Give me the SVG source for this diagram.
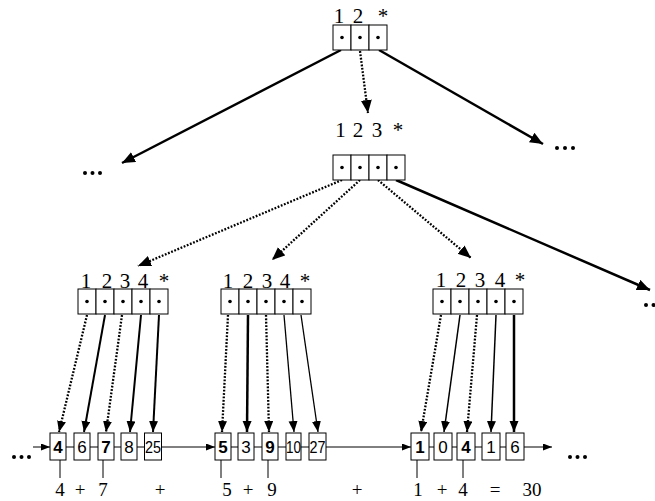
<svg xmlns="http://www.w3.org/2000/svg" width="655" height="501" viewBox="0 0 655 501">
<defs>
<style>
.cell{fill:#fff;stroke:#000;stroke-width:1}
.dot{fill:#000}
.lbl{font-family:"Liberation Serif",serif;font-size:21px;text-anchor:middle;fill:#000}
.box{fill:#fff;stroke:#000;stroke-width:1}
.bt{font-family:"Liberation Sans",sans-serif;font-size:17px;text-anchor:middle;fill:#000}
.bb{font-weight:bold}
.sum{font-family:"Liberation Serif",serif;font-size:19px;text-anchor:middle;fill:#000}
.big{stroke:#000;stroke-width:2.5;fill:none;marker-end:url(#ahL)}
.dotted{stroke:#000;stroke-width:2.3;stroke-dasharray:1.8 1.6;fill:none}
.dl{marker-end:url(#ahL)}
.ds{marker-end:url(#ahS)}
.sol{stroke:#000;fill:none;marker-end:url(#ahS)}
.hl{stroke:#000;stroke-width:1;fill:none}
.ha{marker-end:url(#ahH)}
</style>
<marker id="ahL" markerUnits="userSpaceOnUse" markerWidth="14" markerHeight="12" refX="13" refY="5.5" orient="auto"><path d="M0,0 L13,5.5 L0,11 z" fill="#000"/></marker>
<marker id="ahS" markerUnits="userSpaceOnUse" markerWidth="12" markerHeight="10" refX="11" refY="4.5" orient="auto"><path d="M0,0 L11,4.5 L0,9 z" fill="#000"/></marker>
<marker id="ahH" markerUnits="userSpaceOnUse" markerWidth="10" markerHeight="8" refX="9" refY="3.5" orient="auto"><path d="M0,0 L9,3.5 L0,7 z" fill="#000"/></marker>
</defs>
<rect width="655" height="501" fill="#fff"/>

<g id="connectors">
<line class="big" x1="341" y1="50" x2="122" y2="163"/>
<line class="big" x1="379" y1="50" x2="543" y2="144"/>
<line class="dotted dl" x1="360" y1="51" x2="368" y2="113"/>
<line class="dotted dl" x1="342" y1="180" x2="138" y2="266"/>
<line class="dotted dl" x1="360" y1="180" x2="272" y2="260"/>
<line class="dotted dl" x1="378" y1="180" x2="471" y2="258"/>
<line class="big" x1="396" y1="180" x2="650" y2="290"/>

<line class="dotted ds" x1="87" y1="315" x2="59" y2="432"/>
<line class="sol" stroke-width="2" x1="105" y1="315" x2="84" y2="432"/>
<line class="dotted ds" x1="122" y1="315" x2="106" y2="432"/>
<line class="sol" stroke-width="2" x1="141" y1="315" x2="130" y2="432"/>
<line class="sol" stroke-width="2" x1="159" y1="315" x2="153" y2="432"/>

<line class="dotted ds" x1="228" y1="315" x2="222" y2="432"/>
<line class="sol" stroke-width="2.5" x1="248" y1="315" x2="247" y2="432"/>
<line class="dotted ds" x1="266" y1="315" x2="269" y2="432"/>
<line class="sol" stroke-width="1.3" x1="284" y1="315" x2="294" y2="432"/>
<line class="sol" stroke-width="1.3" x1="301" y1="315" x2="318" y2="432"/>

<line class="dotted ds" x1="441" y1="315" x2="421" y2="432"/>
<line class="sol" stroke-width="1.5" x1="460" y1="315" x2="444" y2="432"/>
<line class="dotted ds" x1="477" y1="315" x2="467" y2="432"/>
<line class="sol" stroke-width="1.5" x1="496" y1="315" x2="491" y2="432"/>
<line class="sol" stroke-width="2.5" x1="514" y1="315" x2="514" y2="432"/>

<line class="hl ha" x1="33" y1="447" x2="50" y2="447"/>
<line class="hl" x1="66" y1="447" x2="74" y2="447"/>
<line class="hl" x1="90" y1="447" x2="98" y2="447"/>
<line class="hl" x1="114" y1="447" x2="121" y2="447"/>
<line class="hl" x1="137" y1="447" x2="144.5" y2="447"/>
<line class="hl ha" x1="161.5" y1="447" x2="215" y2="447"/>
<line class="hl" x1="231" y1="447" x2="238" y2="447"/>
<line class="hl" x1="254" y1="447" x2="262" y2="447"/>
<line class="hl" x1="278" y1="447" x2="286" y2="447"/>
<line class="hl" x1="301" y1="447" x2="309" y2="447"/>
<line class="hl ha" x1="326" y1="447" x2="411" y2="447"/>
<line class="hl" x1="429" y1="447" x2="434" y2="447"/>
<line class="hl" x1="452" y1="447" x2="457" y2="447"/>
<line class="hl" x1="475" y1="447" x2="482" y2="447"/>
<line class="hl" x1="500" y1="447" x2="506" y2="447"/>
<line class="hl ha" x1="524" y1="447" x2="552" y2="447"/>

<line class="hl" x1="60" y1="460" x2="60" y2="478"/>
<line class="hl" x1="103" y1="460" x2="103" y2="478"/>
<line class="hl" x1="221" y1="460" x2="221" y2="478"/>
<line class="hl" x1="268" y1="460" x2="268" y2="478"/>
<line class="hl" x1="417" y1="460" x2="417" y2="478"/>
<line class="hl" x1="463" y1="460" x2="463" y2="478"/>
</g>

<g id="ellipses">
<circle class="dot" cx="85" cy="173" r="2"/><circle class="dot" cx="92.5" cy="173" r="2"/><circle class="dot" cx="100" cy="173" r="2"/>
<circle class="dot" cx="557" cy="148" r="2"/><circle class="dot" cx="565" cy="148" r="2"/><circle class="dot" cx="573" cy="148" r="2"/>
<circle class="dot" cx="646" cy="305" r="2"/><circle class="dot" cx="653.5" cy="305" r="2"/><circle class="dot" cx="661" cy="305" r="2"/>
<circle class="dot" cx="14" cy="457" r="2"/><circle class="dot" cx="21.5" cy="457" r="2"/><circle class="dot" cx="29" cy="457" r="2"/>
<circle class="dot" cx="570" cy="457" r="2"/><circle class="dot" cx="577.5" cy="457" r="2"/><circle class="dot" cx="585" cy="457" r="2"/>
</g>

<g id="node-top">
<rect class="cell" x="333" y="25" width="18" height="25"/><rect class="cell" x="351" y="25" width="18" height="25"/><rect class="cell" x="369" y="25" width="18" height="25"/>
<circle class="dot" cx="342" cy="37.5" r="1.8"/><circle class="dot" cx="360" cy="37.5" r="1.8"/><circle class="dot" cx="378" cy="37.5" r="1.8"/>
<text class="lbl" x="339" y="23">1</text><text class="lbl" x="358" y="23">2</text><text class="lbl" x="383" y="23">*</text>
</g>

<g id="node-mid">
<rect class="cell" x="333" y="155" width="18" height="25"/><rect class="cell" x="351" y="155" width="18" height="25"/><rect class="cell" x="369" y="155" width="18" height="25"/><rect class="cell" x="387" y="155" width="18" height="25"/>
<circle class="dot" cx="342" cy="167.5" r="1.8"/><circle class="dot" cx="360" cy="167.5" r="1.8"/><circle class="dot" cx="378" cy="167.5" r="1.8"/><circle class="dot" cx="396" cy="167.5" r="1.8"/>
<text class="lbl" x="340.5" y="137">1</text><text class="lbl" x="358" y="137">2</text><text class="lbl" x="377" y="137">3</text><text class="lbl" x="398" y="137">*</text>
</g>

<g id="node-a">
<rect class="cell" x="78" y="289" width="18" height="25"/><rect class="cell" x="96" y="289" width="18" height="25"/><rect class="cell" x="114" y="289" width="18" height="25"/><rect class="cell" x="132" y="289" width="18" height="25"/><rect class="cell" x="150" y="289" width="18" height="25"/>
<circle class="dot" cx="87" cy="301.5" r="1.8"/><circle class="dot" cx="105" cy="301.5" r="1.8"/><circle class="dot" cx="123" cy="301.5" r="1.8"/><circle class="dot" cx="141" cy="301.5" r="1.8"/><circle class="dot" cx="159" cy="301.5" r="1.8"/>
<text class="lbl" x="86" y="288">1</text><text class="lbl" x="107" y="288">2</text><text class="lbl" x="125" y="288">3</text><text class="lbl" x="143" y="288">4</text><text class="lbl" x="164" y="288">*</text>
</g>

<g id="node-b">
<rect class="cell" x="221" y="289" width="18" height="25"/><rect class="cell" x="239" y="289" width="18" height="25"/><rect class="cell" x="257" y="289" width="18" height="25"/><rect class="cell" x="275" y="289" width="18" height="25"/><rect class="cell" x="293" y="289" width="18" height="25"/>
<circle class="dot" cx="230" cy="301.5" r="1.8"/><circle class="dot" cx="248" cy="301.5" r="1.8"/><circle class="dot" cx="266" cy="301.5" r="1.8"/><circle class="dot" cx="284" cy="301.5" r="1.8"/><circle class="dot" cx="302" cy="301.5" r="1.8"/>
<text class="lbl" x="228" y="288">1</text><text class="lbl" x="248" y="288">2</text><text class="lbl" x="267" y="288">3</text><text class="lbl" x="285" y="288">4</text><text class="lbl" x="305" y="288">*</text>
</g>

<g id="node-c">
<rect class="cell" x="433" y="289" width="18" height="25"/><rect class="cell" x="451" y="289" width="18" height="25"/><rect class="cell" x="469" y="289" width="18" height="25"/><rect class="cell" x="487" y="289" width="18" height="25"/><rect class="cell" x="505" y="289" width="18" height="25"/>
<circle class="dot" cx="442" cy="301.5" r="1.8"/><circle class="dot" cx="460" cy="301.5" r="1.8"/><circle class="dot" cx="478" cy="301.5" r="1.8"/><circle class="dot" cx="496" cy="301.5" r="1.8"/><circle class="dot" cx="514" cy="301.5" r="1.8"/>
<text class="lbl" x="441" y="287">1</text><text class="lbl" x="461" y="287">2</text><text class="lbl" x="480" y="287">3</text><text class="lbl" x="500" y="287">4</text><text class="lbl" x="520" y="287">*</text>
</g>

<g id="list-1">
<rect class="box" x="50" y="433" width="16" height="27"/><text class="bt bb" x="58" y="453">4</text>
<rect class="box" x="74" y="433" width="16" height="27"/><text class="bt" x="82" y="453">6</text>
<rect class="box" x="98" y="433" width="16" height="27"/><text class="bt bb" x="106" y="453">7</text>
<rect class="box" x="121" y="433" width="16" height="27"/><text class="bt" x="129" y="453">8</text>
<rect class="box" x="144.5" y="433" width="17" height="27"/><text class="bt" x="153" y="453" textLength="16" lengthAdjust="spacingAndGlyphs">25</text>
</g>

<g id="list-2">
<rect class="box" x="215" y="433" width="16" height="27"/><text class="bt bb" x="223" y="453">5</text>
<rect class="box" x="238" y="433" width="16" height="27"/><text class="bt" x="246" y="453">3</text>
<rect class="box" x="262" y="433" width="16" height="27"/><text class="bt bb" x="270" y="453">9</text>
<rect class="box" x="286" y="433" width="15" height="27"/><text class="bt" x="293.5" y="453" textLength="15" lengthAdjust="spacingAndGlyphs">10</text>
<rect class="box" x="309" y="433" width="17" height="27"/><text class="bt" x="317.5" y="453" textLength="16" lengthAdjust="spacingAndGlyphs">27</text>
</g>

<g id="list-3">
<rect class="box" x="411" y="433" width="18" height="27"/><text class="bt bb" x="420" y="453">1</text>
<rect class="box" x="434" y="433" width="18" height="27"/><text class="bt" x="443" y="453">0</text>
<rect class="box" x="457" y="433" width="18" height="27"/><text class="bt bb" x="466" y="453">4</text>
<rect class="box" x="482" y="433" width="18" height="27"/><text class="bt" x="491" y="453">1</text>
<rect class="box" x="506" y="433" width="18" height="27"/><text class="bt" x="515" y="453">6</text>
</g>

<g id="sum">
<text class="sum" x="60" y="496">4</text><text class="sum" x="80" y="496">+</text><text class="sum" x="103" y="496">7</text><text class="sum" x="160" y="496">+</text>
<text class="sum" x="227" y="496">5</text><text class="sum" x="248" y="496">+</text><text class="sum" x="272" y="496">9</text><text class="sum" x="357" y="496">+</text>
<text class="sum" x="418" y="496">1</text><text class="sum" x="442" y="496">+</text><text class="sum" x="463" y="496">4</text><text class="sum" x="495" y="496">=</text><text class="sum" x="532" y="496">30</text>
</g>
</svg>
